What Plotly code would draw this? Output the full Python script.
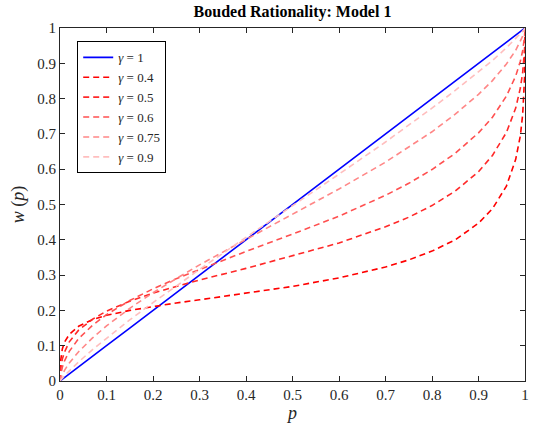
import plotly.graph_objects as go

# probability grid
P = [0, 0.001, 0.005, 0.01, 0.02, 0.04, 0.07, 0.1, 0.15, 0.2, 0.25, 0.3, 0.4, 0.5,
     0.6, 0.7, 0.75, 0.8, 0.85, 0.9, 0.93, 0.96, 0.98, 0.99, 0.995, 0.999, 1]

W_1 = [0, 0.001, 0.005, 0.01, 0.02, 0.04, 0.07, 0.1, 0.15, 0.2, 0.25, 0.3, 0.4, 0.5,
       0.6, 0.7, 0.75, 0.8, 0.85, 0.9, 0.93, 0.96, 0.98, 0.99, 0.995, 0.999, 1]
W_04 = [0, 0.054, 0.091, 0.111, 0.132, 0.155, 0.174, 0.186, 0.200, 0.211, 0.221, 0.230, 0.248,
        0.268, 0.292, 0.323, 0.343, 0.368, 0.400, 0.447, 0.488, 0.552, 0.628, 0.695, 0.755, 0.859, 1]
W_05 = [0, 0.030, 0.062, 0.083, 0.111, 0.144, 0.175, 0.198, 0.226, 0.249, 0.268, 0.286, 0.319,
        0.354, 0.391, 0.437, 0.464, 0.497, 0.538, 0.593, 0.639, 0.704, 0.773, 0.830, 0.874, 0.940, 1]
W_06 = [0, 0.015, 0.039, 0.058, 0.084, 0.120, 0.158, 0.188, 0.228, 0.261, 0.290, 0.316, 0.367,
        0.416, 0.467, 0.526, 0.560, 0.599, 0.645, 0.703, 0.747, 0.807, 0.864, 0.906, 0.936, 0.975, 1]
W_075 = [0, 0.006, 0.018, 0.031, 0.051, 0.083, 0.122, 0.156, 0.206, 0.250, 0.290, 0.329, 0.401,
         0.472, 0.544, 0.620, 0.662, 0.706, 0.756, 0.812, 0.851, 0.898, 0.937, 0.962, 0.977, 0.993, 1]
W_09 = [0, 0.002, 0.008, 0.016, 0.029, 0.054, 0.089, 0.121, 0.173, 0.222, 0.269, 0.316, 0.407,
        0.496, 0.586, 0.677, 0.724, 0.773, 0.823, 0.875, 0.908, 0.944, 0.970, 0.984, 0.991, 0.998, 1]

LABELS = ["1", "0.4", "0.5", "0.6", "0.75", "0.9"]
SERIES = [W_1, W_04, W_05, W_06, W_075, W_09]
COLORS = ["#0000ff", "#ff0000", "#ff2828", "#ff5050", "#ff8787", "#ffbebe"]
DASHES = ["solid", "6px,4px", "6px,4px", "6px,4px", "6px,4px", "6px,4px"]

TICKS = [0, 0.1, 0.2, 0.3, 0.4, 0.5, 0.6, 0.7, 0.8, 0.9, 1]
TICK_TEXT = ["0", "0.1", "0.2", "0.3", "0.4", "0.5", "0.6", "0.7", "0.8", "0.9", "1"]

FONT = "Liberation Serif"

fig = go.Figure()
for lab, ys, col, dash in zip(LABELS, SERIES, COLORS, DASHES):
    fig.add_trace(go.Scatter(
        x=P, y=ys, mode="lines", name="<i>γ</i> = " + lab,
        line=dict(color=col, width=1.6, dash=dash),
    ))

axis_common = dict(
    range=[0, 1], tickvals=TICKS, ticktext=TICK_TEXT,
    ticks="inside", ticklen=5, tickcolor="#262626", tickwidth=1,
    showline=True, linecolor="#262626", linewidth=1, mirror="ticks",
    showgrid=False, zeroline=False, automargin=False,
    tickfont=dict(family=FONT, size=15, color="#262626"),
)

fig.update_layout(
    width=536, height=427,
    margin=dict(l=60, r=11, t=28, b=46),
    paper_bgcolor="white", plot_bgcolor="white",
    font=dict(family=FONT, color="#262626"),
    title=dict(text="<b>Bouded Rationality: Model 1</b>", x=0.5, xref="paper",
               y=1 - 11 / 427, yref="container", yanchor="middle", xanchor="center",
               font=dict(family=FONT, size=16, color="black")),
    xaxis=dict(axis_common, title=dict(text="<i>p</i>", standoff=0,
                                        font=dict(family=FONT, size=18, color="#262626"))),
    yaxis=dict(axis_common, title=dict(text="<i>w</i> (<i>p</i>)", standoff=7,
                                        font=dict(family=FONT, size=18, color="#262626"))),
    legend=dict(x=0.037, y=0.962, xanchor="left", yanchor="top",
                bgcolor="white", bordercolor="black", borderwidth=1,
                font=dict(family=FONT, size=13, color="#262626"),
                itemwidth=30, tracegroupgap=0),
    showlegend=True,
)

fig.write_html("out.html", config={"displayModeBar": False},
               post_script="document.body.style.margin='0';document.body.style.overflow='hidden';")
